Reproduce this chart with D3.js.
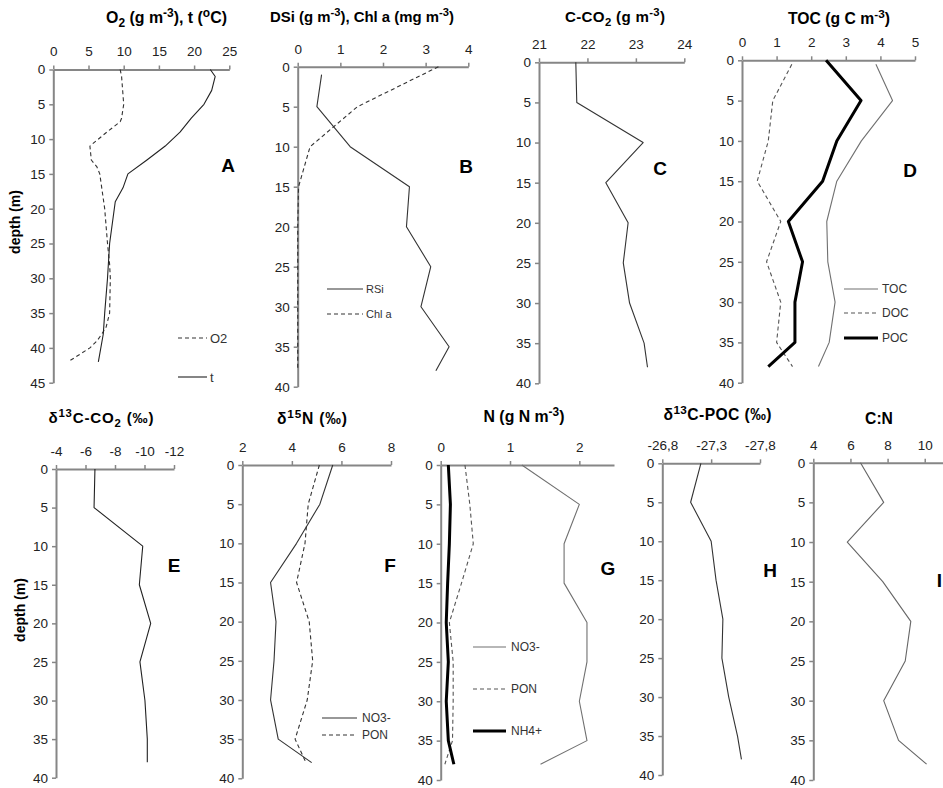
<!DOCTYPE html>
<html><head><meta charset="utf-8">
<script src="https://cdn.jsdelivr.net/npm/d3@7"></script>
<style>body{margin:0;background:#fff}svg{display:block}</style>
</head><body><svg id="c" width="943" height="788"></svg>
<script>
// ---------- data ----------
const depthsStd = [0,5,10,15,20,25,30,35,38];
// A
const depthA_t = [0,1,3,5,7,9,11,13,15,17,19,25,30,35,38,42];
const tempA    = [22.3,23.0,22.5,21.4,19.6,18.0,15.9,13.3,10.6,9.9,8.8,8.0,7.7,7.3,7.1,6.4];
const depthA_o2 = [0,1,5,7,7.5,9,11,13,14,15,20,25,28,30,35,37,38,39,40,42];
const o2A       = [9.5,9.7,10.0,9.7,9.5,7.6,5.2,5.4,6.2,6.6,7.3,7.7,8.0,8.1,8.0,7.5,6.9,6.2,5.2,2.1];
// B
const depthB_rsi = [1,5,10,15,20,25,30,35,38];
const rsiB  = [0.56,0.45,1.23,2.62,2.55,3.12,2.89,3.55,3.24];
const chlB  = [3.3,1.4,0.29,0.02,0,0,0,0,0];
// C
const co2C  = [21.76,21.78,23.15,22.38,22.84,22.74,22.87,23.17,23.24];
// D
const depthD_td = [0.5,5,10,15,20,25,30,35,38];
const tocD  = [3.87,4.35,3.45,2.74,2.45,2.48,2.69,2.52,2.21];
const docD  = [1.44,0.89,0.76,0.44,1.12,0.71,1.12,1.00,1.46];
const pocD  = [2.43,3.44,2.74,2.33,1.34,1.75,1.53,1.53,0.76];
// E
const d13co2E = [-6.64,-6.58,-9.88,-9.65,-10.42,-9.69,-10.03,-10.19,-10.19];
// F
const d15no3F = [5.65,5.13,4.19,3.14,3.36,3.28,3.14,3.45,4.80];
const d15ponF = [5.11,4.66,4.53,4.19,4.70,4.84,4.62,4.13,4.57];
// G
const no3G  = [1.17,2.00,1.78,1.78,2.11,2.11,2.00,2.11,1.44];
const ponG  = [0.35,0.42,0.47,0.30,0.125,0.18,0.18,0.17,0.06];
const nh4G  = [0.11,0.14,0.125,0.10,0.08,0.11,0.08,0.11,0.19];
// H
const d13pocH = [-27.195,-27.09,-27.30,-27.35,-27.42,-27.41,-27.48,-27.57,-27.61];
// I
const cnI   = [6.54,7.79,5.83,7.74,9.25,8.95,7.79,8.59,10.10];

// tick labels
const ticksA_x = [0,5,10,15,20,25];
const ticksA_y = [0,5,10,15,20,25,30,35,40,45];
const ticksDepth = [0,5,10,15,20,25,30,35,40];
const ticksB_x = [0,1,2,3,4];
const ticksC_x = [21,22,23,24];
const ticksD_x = [0,1,2,3,4,5];
const ticksE_x = [-4,-6,-8,-10,-12];
const ticksF_x = [2,4,6,8];
const ticksG_x = [0,1,2];
const ticksH_x = [-26.8,-27.3,-27.8];
const ticksH_lab = ["-26,8","-27,3","-27,8"];
const ticksI_x = [4,6,8,10];

// ---------- drawing ----------
const svg = d3.select('#c');
const FONT = "'Liberation Sans', Arial, sans-serif";
const AXC = '#868686';

function rich(textSel, parts, size){
  textSel.selectAll('tspan').remove();
  let off = 0;
  parts.forEach(p => {
    const [t,k] = Array.isArray(p) ? p : [p,'n'];
    let target = k==='sup' ? -size*0.38 : k==='sub' ? size*0.25 : 0;
    const ts = textSel.append('tspan').attr('dy', target-off).text(t);
    if(k!=='n') ts.attr('font-size', size*0.75);
    off = target;
  });
}

const panels = [
 {id:'A', x0:53.3, x1:229.3, y0:69.5, y1:382.7, xd:[0,25], yd:[0,45], xt:ticksA_x, yt:ticksA_y,
  title:['O',['2','sub'],' (g m',['-3','sup'],'), t (',['o','sup'],'C)'], tx:166.5, ty:23, ts:15, tw:121,
  letter:{x:228,y:172},
  series:[
   {d:depthA_o2, v:o2A, dash:'4,3', w:1.1, c:'#333'},
   {d:depthA_t, v:tempA, w:1.1, c:'#222'}],
  legend:{x0:178,x1:207,tx:210,fs:13,items:[{l:'O2',y:338,dash:'4,3',w:1.1,c:'#333'},{l:'t',y:377,w:1.1,c:'#222'}]},
  depthLabel:{x:15,y:222}},
 {id:'B', x0:297.7, x1:468.3, y0:66.7, y1:386.7, xd:[0,4], yd:[0,40], xt:ticksB_x, yt:ticksDepth,
  title:['DSi (g m',['-3','sup'],'), Chl a (mg  m',['-3','sup'],')'], tx:362, ty:22, ts:13.5, tw:184,
  letter:{x:466,y:173},
  series:[
   {d:depthB_rsi, v:rsiB, w:1.1, c:'#333'},
   {d:depthsStd, v:chlB, dash:'4,3', w:1.1, c:'#333'}],
  legend:{x0:327,x1:363,tx:366,fs:11,items:[{l:'RSi',y:289,w:1.1,c:'#333'},{l:'Chl a',y:314,dash:'4,3',w:1.1,c:'#333'}]}},
 {id:'C', x0:539, x1:684.3, y0:62.3, y1:383.3, xd:[21,24], yd:[0,40], xt:ticksC_x, yt:ticksDepth,
  title:['C-CO',['2','sub'],' (g m',['-3','sup'],')'], tx:615, ty:22, ts:13.5, tw:100,
  letter:{x:660,y:175},
  series:[{d:depthsStd, v:co2C, w:1.1, c:'#333'}]},
 {id:'D', x0:742, x1:915, y0:60.3, y1:382.7, xd:[0,5], yd:[0,40], xt:ticksD_x, yt:ticksDepth,
  title:['TOC (g C m',['-3','sup'],')'], tx:839, ty:24, ts:15, tw:102,
  letter:{x:910,y:177},
  series:[
   {d:depthD_td, v:tocD, w:1.1, c:'#707070'},
   {d:depthD_td, v:docD, dash:'4,3', w:1.1, c:'#555'},
   {d:depthsStd, v:pocD, w:3, c:'#000'}],
  legend:{x0:844,x1:878,tx:882,fs:12,items:[{l:'TOC',y:289,w:1.1,c:'#707070'},{l:'DOC',y:313,dash:'4,3',w:1.1,c:'#555'},{l:'POC',y:338,w:3,c:'#000'}]}},
 {id:'E', x0:56, x1:174, y0:469, y1:777.7, xd:[-4,-12], yd:[0,40], xt:ticksE_x, yt:ticksDepth,
  title:['δ',['13','sup'],'C-CO',['2','sub'],' (‰)'], tx:101, ty:423, ts:13.5, tw:105,
  letter:{x:174,y:572},
  series:[{d:depthsStd, v:d13co2E, w:1.1, c:'#222'}],
  depthLabel:{x:20,y:610}},
 {id:'F', x0:242.3, x1:391, y0:465, y1:778.3, xd:[2,8], yd:[0,40], xt:ticksF_x, yt:ticksDepth,
  title:['δ',['15','sup'],'N (‰)'], tx:312, ty:424, ts:14, tw:70,
  letter:{x:390,y:572},
  series:[
   {d:depthsStd, v:d15no3F, w:1.1, c:'#333'},
   {d:depthsStd, v:d15ponF, dash:'4,3', w:1.1, c:'#333'}],
  legend:{x0:322,x1:357,tx:362,fs:12,items:[{l:'NO3-',y:718,w:1.1,c:'#333'},{l:'PON',y:735,dash:'4,3',w:1.1,c:'#333'}]}},
 {id:'G', x0:440.7, x1:614, y0:465, y1:780, xd:[0,2.5], yd:[0,40], xt:ticksG_x, yt:ticksDepth,
  title:['N (g N m',['-3','sup'],')'], tx:524, ty:422, ts:15, tw:81,
  letter:{x:608,y:575},
  series:[
   {d:depthsStd, v:no3G, w:1.1, c:'#707070'},
   {d:depthsStd, v:ponG, dash:'4,3', w:1.1, c:'#555'},
   {d:depthsStd, v:nh4G, w:3, c:'#000'}],
  legend:{x0:473,x1:506,tx:511,fs:12,items:[{l:'NO3-',y:647,w:1.1,c:'#707070'},{l:'PON',y:689,dash:'4,3',w:1.1,c:'#555'},{l:'NH4+',y:731,w:3,c:'#000'}]}},
 {id:'H', x0:662.3, x1:760, y0:463.3, y1:775, xd:[-26.8,-27.8], yd:[0,40], xt:ticksH_x, xl:ticksH_lab, yt:ticksDepth,
  title:['δ',['13','sup'],'C-POC (‰)'], tx:717.5, ty:420, ts:14, tw:108,
  letter:{x:770,y:577},
  series:[{d:depthsStd, v:d13pocH, w:1.1, c:'#333'}]},
 {id:'I', x0:813.3, x1:943.3, y0:462.7, y1:780, xd:[4,11], yd:[0,40], xt:ticksI_x, yt:ticksDepth,
  title:['C:N'], tx:879, ty:424, ts:14, tw:28,
  letter:{x:939.5,y:587},
  series:[{d:depthsStd, v:cnI, w:1.1, c:'#666'}]}
];

panels.forEach(p => {
  const x = d3.scaleLinear().domain(p.xd).range([p.x0,p.x1]);
  const y = d3.scaleLinear().domain(p.yd).range([p.y0,p.y1]);
  const g = svg.append('g');

  const xa = d3.axisTop(x).tickValues(p.xt).tickSize(4).tickSizeOuter(0)
     .tickFormat((d,i) => p.xl ? p.xl[i] : String(d));
  const ya = d3.axisLeft(y).tickValues(p.yt).tickSize(4).tickSizeOuter(0).tickFormat(d=>String(d));
  const gx = g.append('g').attr('transform',`translate(0,${p.y0})`).call(xa);
  const gy = g.append('g').attr('transform',`translate(${p.x0},0)`).call(ya);
  [gx,gy].forEach(a => {
    a.select('.domain').attr('stroke',AXC).attr('stroke-width',2);
    a.selectAll('.tick line').attr('stroke',AXC).attr('stroke-width',1.5);
    a.selectAll('.tick text').attr('fill','#222').attr('font-family',FONT).attr('font-size',13.5);
  });
  gx.selectAll('.tick text').attr('dy','-0.45em');
  gy.selectAll('.tick text').attr('x',-8);

  p.series.forEach(s => {
    const pts = s.d.map((dd,i)=>[s.v[i], dd]);
    g.append('path').datum(pts)
      .attr('d', d3.line().x(d=>x(d[0])).y(d=>y(d[1])))
      .attr('fill','none').attr('stroke',s.c).attr('stroke-width',s.w)
      .attr('stroke-dasharray', s.dash || null).attr('stroke-linejoin','round');
  });

  // title: grow font a little toward target width, then fine-tune spacing
  const t = g.append('text').attr('x',p.tx).attr('y',p.ty).attr('text-anchor','middle')
    .attr('font-family',FONT).attr('font-weight','bold').attr('font-size',p.ts).attr('fill','#000');
  rich(t, p.title, p.ts);
  let bw = t.node().getComputedTextLength();
  let fs = Math.min(p.ts * p.tw / bw, p.ts * 1.12);
  fs = Math.max(fs, p.ts * 0.9);
  t.attr('font-size', fs); rich(t, p.title, fs);
  bw = t.node().getComputedTextLength();
  if (Math.abs(bw - p.tw) > 3) t.attr('textLength', p.tw).attr('lengthAdjust','spacing');

  g.append('text').attr('x',p.letter.x).attr('y',p.letter.y).attr('text-anchor','middle')
    .attr('font-family',FONT).attr('font-weight','bold').attr('font-size',19).text(p.id);

  if(p.legend){
    p.legend.items.forEach(it => {
      g.append('line').attr('x1',p.legend.x0).attr('x2',p.legend.x1).attr('y1',it.y).attr('y2',it.y)
        .attr('stroke',it.c).attr('stroke-width',it.w).attr('stroke-dasharray',it.dash||null);
      g.append('text').attr('x',p.legend.tx).attr('y',it.y).attr('dy','0.35em')
        .attr('font-family',FONT).attr('font-size',p.legend.fs).attr('fill','#333').text(it.l);
    });
  }

  if(p.depthLabel){
    g.append('text').attr('transform',`translate(${p.depthLabel.x},${p.depthLabel.y}) rotate(-90)`)
      .attr('text-anchor','middle').attr('dy','0.35em')
      .attr('font-family',FONT).attr('font-weight','bold').attr('font-size',14).text('depth (m)');
  }
});
</script></body></html>
